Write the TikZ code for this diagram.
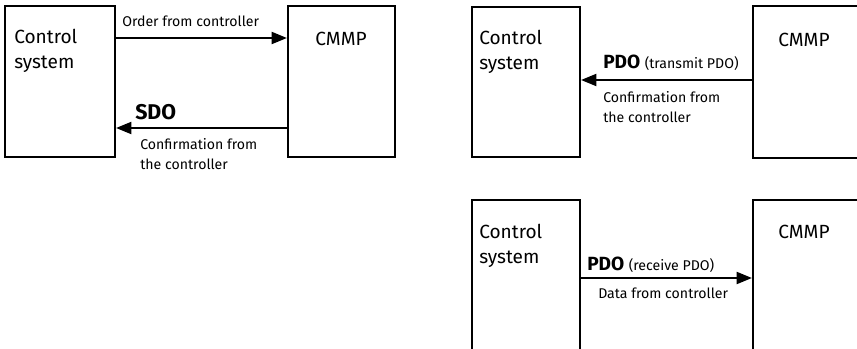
\documentclass[tikz,border=0pt]{standalone}
\usepackage{fontspec}
\setmainfont{Fira Sans}
\usetikzlibrary{arrows.meta}
\begin{document}
\begin{tikzpicture}[x=0.75pt,y=-0.75pt,
  box/.style={draw=black,line width=1.6pt,rectangle,inner sep=0pt},
  arr/.style={line width=1.6pt,-{Triangle[length=11.5pt,width=9pt]}},
  big/.style={inner sep=0pt,font=\fontsize{14.3}{18.75}\selectfont,align=left},
  small/.style={inner sep=0pt,font=\fontsize{10.6}{15}\selectfont,align=left},
  bold/.style={inner sep=0pt,font=\fontsize{16}{18}\selectfont\bfseries}]
\useasboundingbox (0,0) rectangle (857,349);
\clip (0,0) rectangle (857,349);
% left panel
\node[box,minimum width=82.5pt,minimum height=113.25pt] (cs1) at (60,81.5) {};
\node[box,minimum width=80.25pt,minimum height=113.25pt] (cm1) at (341.5,81.5) {};
\node[big,anchor=west] (t1) at (14,50.5) {Control\\system};
\node[big] (c1) at (341,39) {CMMP};
\draw[arr] (cs1.east |- 0,38) coordinate (a1s) -- (cm1.west |- a1s);
\node[small,anchor=west] (o1) at (122,21) {Order from controller};
\draw[arr] (cm1.west |- 0,128) coordinate (a2s) -- (cs1.east |- a2s);
\node[bold,anchor=west] (sdo) at (135,112) {SDO};
\node[small,anchor=west] (cf1) at (140,154) {Confirmation from\\the controller};
% top right panel
\node[box,minimum width=81pt,minimum height=112.5pt] (cs2) at (526,82) {};
\node[box,minimum width=90pt,minimum height=114pt] (cm2) at (813,82) {};
\node[big,anchor=west] (t2) at (479,52) {Control\\system};
\node[big,anchor=west] (c2) at (778,40) {CMMP};
\draw[arr] (cm2.west |- 0,80) coordinate (a3s) -- (cs2.east |- a3s);
\node[anchor=west,inner sep=0pt] (p2) at (603,63) {\fontsize{14.3}{16}\selectfont\bfseries PDO\ \fontsize{10.6}{12}\selectfont\mdseries(transmit PDO)};
\node[small,anchor=west] (cf2) at (603,107) {Confirmation from\\the controller};
% bottom right panel
\node[box,minimum width=81pt,minimum height=120pt] (cs3) at (526,280) {};
\node[box,minimum width=90pt,minimum height=120pt] (cm3) at (813,280) {};
\node[big,anchor=west] (t3) at (479,245.5) {Control\\system};
\node[big,anchor=west] (c3) at (778,232) {CMMP};
\draw[arr] (cs3.east |- 0,278) coordinate (a4s) -- (cm3.west |- a4s);
\node[anchor=west,inner sep=0pt] (p3) at (587,265) {\fontsize{14.3}{16}\selectfont\bfseries PDO\ \fontsize{10.6}{12}\selectfont\mdseries(receive PDO)};
\node[small,anchor=west] (d3) at (598,293) {Data from controller};
\end{tikzpicture}
\end{document}
